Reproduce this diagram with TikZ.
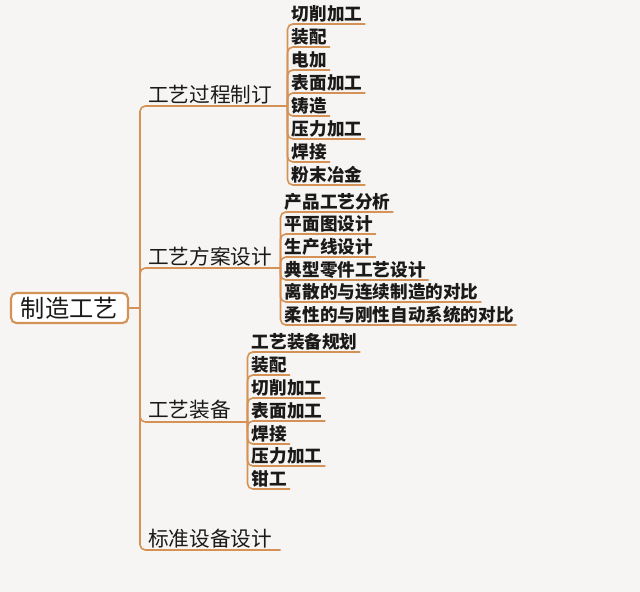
\documentclass[tikz,border=0pt]{standalone}
\usepackage{fontspec}
\newfontfamily\cjk{Noto Sans CJK SC}
\definecolor{bg}{HTML}{F6F5F3}
\definecolor{lc}{HTML}{D49257}
\definecolor{tx}{HTML}{1C1A18}
\tikzset{
  ln/.style={draw=lc, line width=1.2pt, rounded corners=4pt},
  rootbox/.style={draw=lc, line width=1.6pt, fill=white, rounded corners=4pt,
    minimum width=87.75pt, minimum height=22.5pt, inner sep=0pt,
    font=\cjk\fontsize{18.2}{20}\selectfont, text=tx},
  lone/.style={anchor=south west, inner xsep=3pt, inner ysep=1.5pt, align=left,
    font=\cjk\fontsize{15.5}{17}\selectfont, text=tx},
  leaf/.style={anchor=south west, inner xsep=2pt, inner ysep=1.2pt,
    font=\cjk\bfseries\fontsize{13.2}{15}\selectfont, text=tx}
}
\begin{document}
\begin{tikzpicture}[x=0.75pt,y=-0.75pt]
\fill[bg] (0,0) rectangle (640,592);
\useasboundingbox (0,0) rectangle (640,592);

\node[rootbox] (root) at (69.5,308) {制造工艺};
\coordinate (m) at (140,308);
\draw[ln] (root.east) -- (m);

\node[lone, text width=101.25pt] (a) at (144,106) {工艺过程制订};
\node[lone, text width=96pt] (b) at (144,268) {工艺方案设计};
\node[lone, text width=71.25pt] (c) at (144,422) {工艺装备};
\node[lone, text width=96pt] (d) at (144,550) {标准设备设计};
\foreach \p in {a,b,c,d} \draw[ln] (m) |- (\p.south east);

% group A
\node[leaf] (a1) at (289,24) {切削加工};
\node[leaf] (a2) at (289,47) {装配};
\node[leaf] (a3) at (289,70) {电加};
\node[leaf] (a4) at (289,93) {表面加工};
\node[leaf] (a5) at (289,116) {铸造};
\node[leaf] (a6) at (289,139) {压力加工};
\node[leaf] (a7) at (289,162) {焊接};
\node[leaf] (a8) at (289,185) {粉末冶金};
\foreach \i in {1,...,8} \draw[ln] (a.south east) |- (a\i.south east);

% group B
\node[leaf] (b1) at (282,212) {产品工艺分析};
\node[leaf] (b2) at (282,234) {平面图设计};
\node[leaf] (b3) at (282,257) {生产线设计};
\node[leaf] (b4) at (282,280) {典型零件工艺设计};
\node[leaf] (b5) at (282,302) {离散的与连续制造的对比};
\node[leaf] (b6) at (282,325) {柔性的与刚性自动系统的对比};
\foreach \i in {1,...,6} \draw[ln] (b.south east) |- (b\i.south east);

% group C
\node[leaf] (c1) at (249,352) {工艺装备规划};
\node[leaf] (c2) at (249,375) {装配};
\node[leaf] (c3) at (249,398) {切削加工};
\node[leaf] (c4) at (249,421) {表面加工};
\node[leaf] (c5) at (249,444) {焊接};
\node[leaf] (c6) at (249,466) {压力加工};
\node[leaf] (c7) at (249,489) {钳工};
\foreach \i in {1,...,7} \draw[ln] (c.south east) |- (c\i.south east);
\end{tikzpicture}
\end{document}
